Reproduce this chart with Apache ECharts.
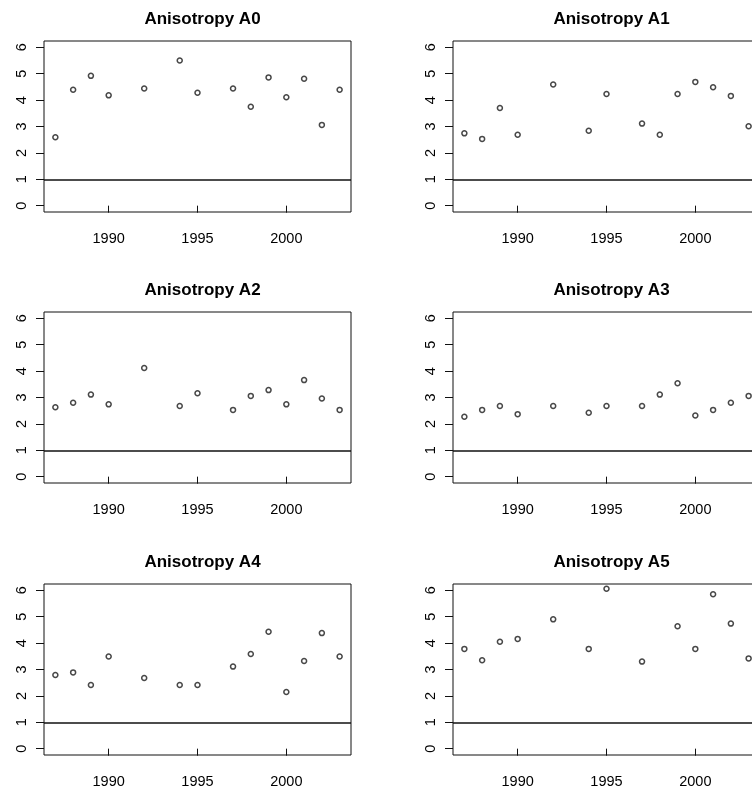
<!DOCTYPE html>
<html>
<head>
<meta charset="utf-8">
<script src="https://cdn.jsdelivr.net/npm/echarts@6/dist/echarts.min.js"></script>
<style>
  html, body { margin: 0; padding: 0; background: #fff; }
  #chart { width: 752px; height: 793px; }
</style>
</head>
<body>
<div id="chart"></div>
<script>
// Survey years shared by every panel
const years = [1987, 1988, 1989, 1990, 1992, 1994, 1995, 1997, 1998, 1999, 2000, 2001, 2002, 2003];

// Anisotropy ratio per year (null = no observation)
const a0 = [2.59, 4.39, 4.92, 4.18, 4.44, 5.50, 4.28, 4.44, 3.75, 4.86, 4.11, 4.81, 3.06, 4.39];
const a1 = [2.74, 2.53, 3.70, 2.69, 4.59, 2.84, 4.23, 3.11, 2.69, 4.23, 4.69, 4.49, 4.16, 3.01];
const a2 = [2.63, 2.80, 3.11, 2.74, 4.12, 2.68, 3.16, 2.53, 3.06, 3.28, 2.74, 3.66, 2.96, 2.53];
const a3 = [2.27, 2.53, 2.68, 2.37, 2.68, 2.42, 2.68, 2.68, 3.11, 3.54, 2.32, 2.53, 2.80, 3.06];
const a4 = [2.79, 2.89, 2.41, 3.49, 2.68, 2.41, 2.41, 3.11, 3.59, 4.43, 2.15, 3.32, 4.38, 3.49];
const a5 = [3.78, 3.35, 4.05, 4.16, 4.90, 3.78, 6.06, 3.30, null, 4.64, 3.78, 5.85, 4.74, 3.42];

const panelTitles = ['Anisotropy A0', 'Anisotropy A1', 'Anisotropy A2',
                     'Anisotropy A3', 'Anisotropy A4', 'Anisotropy A5'];
const panelValues = [a0, a1, a2, a3, a4, a5];

// Axis ticks and the isotropy reference level
const xTicks = [1990, 1995, 2000];
const yTicks = [0, 1, 2, 3, 4, 5, 6];
const referenceLevel = 1;

// Axis extents padded 4% beyond the data range
const xMin = 1986.36, xMax = 2003.64;
const yMin = -0.24, yMax = 6.24;

// Plot boxes: two columns, three rows (right column runs past the page edge)
const colLeft = [44, 453];
const rowTop = [41, 312, 584];
const boxW = 307, boxH = 171;

const FONT = '"Liberation Sans", Arial, sans-serif';

const grids = [], xAxes = [], yAxes = [], series = [], titles = [];

panelValues.forEach((vals, i) => {
  const col = i % 2, row = Math.floor(i / 2);
  const left = colLeft[col], top = rowTop[row];

  grids.push({
    left: left, top: top, width: boxW, height: boxH,
    outerBoundsMode: 'none',
    show: true, borderColor: '#111', borderWidth: 1, backgroundColor: 'transparent',
    containLabel: false
  });

  titles.push({
    text: panelTitles[i],
    left: left + boxW / 2, top: top - 35,
    textAlign: 'center',
    textStyle: { fontFamily: FONT, fontWeight: 'bold', fontSize: 17, color: '#000' }
  });

  xAxes.push({
    type: 'value', gridIndex: i, min: xMin, max: xMax,
    splitLine: { show: false },
    axisLine: { show: false },
    axisTick: { show: true, length: 7, customValues: xTicks, lineStyle: { color: '#111', width: 1 } },
    axisLabel: {
      show: true, customValues: xTicks, margin: 19,
      fontFamily: FONT, fontSize: 14.5, color: '#000',
      formatter: v => String(v)
    }
  });

  yAxes.push({
    type: 'value', gridIndex: i, min: yMin, max: yMax,
    splitLine: { show: false },
    axisLine: { show: false },
    axisTick: { show: true, length: 8, customValues: yTicks, lineStyle: { color: '#111', width: 1 } },
    axisLabel: {
      show: true, customValues: yTicks, rotate: 90, margin: 15,
      fontFamily: FONT, fontSize: 14.5, color: '#000',
      formatter: v => String(v)
    }
  });

  const pts = [];
  years.forEach((y, k) => { if (vals[k] !== null) pts.push([y, vals[k]]); });

  series.push({
    type: 'scatter', xAxisIndex: i, yAxisIndex: i,
    data: pts,
    symbol: 'circle', symbolSize: 5,
    itemStyle: { color: '#fff', borderColor: '#1a1a1a', borderWidth: 1.5 },
    silent: true,
    markLine: {
      silent: true, symbol: 'none',
      label: { show: false },
      lineStyle: { color: '#111', width: 1.5, type: 'solid' },
      data: [{ yAxis: referenceLevel }]
    }
  });
});

const chart = echarts.init(document.getElementById('chart'), null, { renderer: 'canvas' });
chart.setOption({
  animation: false,
  backgroundColor: '#fff',
  title: titles,
  grid: grids,
  xAxis: xAxes,
  yAxis: yAxes,
  series: series
});
</script>
</body>
</html>
